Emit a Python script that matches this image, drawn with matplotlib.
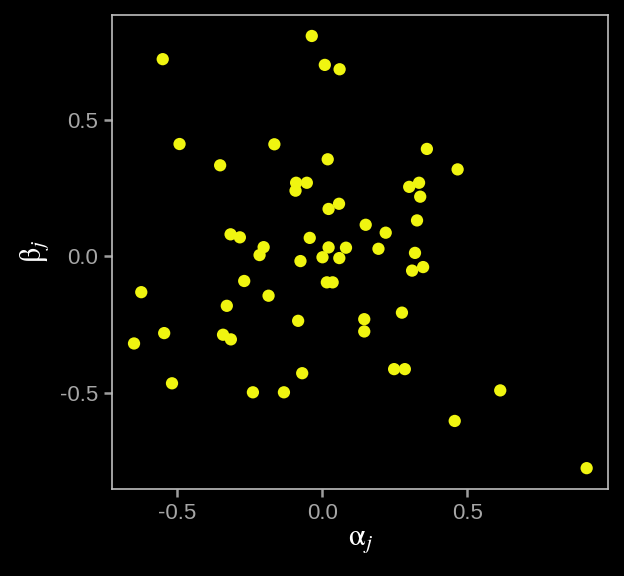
import matplotlib
matplotlib.use("Agg")
import matplotlib.pyplot as plt

plt.rcParams["mathtext.fontset"] = "stix"

# estimated alpha_j / beta_j values
alpha = [-0.036, -0.550, 0.009, 0.060, -0.492, -0.165, -0.352, 0.019, -0.090, -0.053,
         -0.092, 0.058, 0.022, 0.150, -0.316, -0.284, -0.043, -0.202, 0.022, 0.082,
         -0.216, 0.001, 0.059, -0.075, -0.269, 0.016, 0.036, -0.624, -0.185, -0.329,
         -0.083, 0.145, 0.145, -0.545, -0.342, -0.315, -0.649, -0.069, -0.518, -0.239,
         -0.132, 0.361, 0.467, 0.300, 0.334, 0.338, 0.327, 0.219, 0.194, 0.320,
         0.310, 0.348, 0.275, 0.248, 0.285, 0.614, 0.457, 0.912]
beta = [0.807, 0.722, 0.701, 0.685, 0.411, 0.410, 0.333, 0.355, 0.269, 0.269,
        0.240, 0.192, 0.173, 0.115, 0.080, 0.069, 0.067, 0.033, 0.032, 0.031,
        0.004, -0.004, -0.007, -0.018, -0.091, -0.096, -0.096, -0.132, -0.145, -0.182,
        -0.237, -0.231, -0.276, -0.282, -0.288, -0.305, -0.320, -0.429, -0.466, -0.499,
        -0.499, 0.393, 0.318, 0.254, 0.269, 0.218, 0.131, 0.086, 0.027, 0.012,
        -0.053, -0.040, -0.207, -0.414, -0.414, -0.492, -0.604, -0.777]

ticks = [-0.5, 0.0, 0.5]
tick_labels = ["-0.5", "0.0", "0.5"]

fig = plt.figure(figsize=(6.24, 5.76), dpi=100, facecolor="black")
ax = fig.add_axes([0.179, 0.1517, 0.796, 0.8228], facecolor="black")

ax.scatter(alpha, beta, s=78, color="#F0F510", edgecolors="none", zorder=3)

ax.set_xlim(-0.726, 0.987)
ax.set_ylim(-0.852, 0.885)
ax.set_xticks(ticks)
ax.set_xticklabels(tick_labels)
ax.set_yticks(ticks)
ax.set_yticklabels(tick_labels)

for sp in ax.spines.values():
    sp.set_color("#BEBEBE")
    sp.set_linewidth(1.2)

ax.tick_params(colors="#9E9E9E", length=6, width=1.8, labelsize=16, pad=4)
for lbl in ax.get_xticklabels() + ax.get_yticklabels():
    lbl.set_family("Liberation Sans")
    lbl.set_color("#A6A6A6")

ax.set_xlabel(r"$\mathrm{\alpha}_j$", color="white", fontsize=22, labelpad=2)
ax.set_ylabel(r"$\mathrm{\beta}_j$", color="white", fontsize=22, labelpad=6)

fig.savefig("out.png", dpi=100, facecolor="black")
